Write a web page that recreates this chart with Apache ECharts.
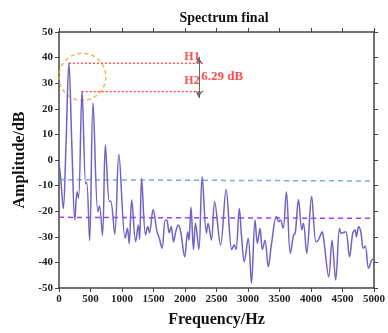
<!DOCTYPE html>
<html>
<head>
<meta charset="utf-8">
<script src="https://cdn.jsdelivr.net/npm/echarts@6/dist/echarts.min.js"></script>
<style>html,body{margin:0;padding:0;background:#fff}#c{width:388px;height:333px}</style>
</head>
<body>
<div id="c"></div>
<script>
var freqs = [0,30,68,110,157,205,251,287,310,366,423,440,486,540,616,642,690,736,799,820,885,950,1050,1086,1113,1154,1217,1259,1280,1311,1374,1410,1436,1494,1556,1593,1635,1687,1712,1750,1781,1818,1860,1896,1932,1995,2042,2063,2095,2135,2167,2220,2272,2340,2366,2418,2470,2564,2653,2742,2783,2810,2862,2898,2940,3003,3055,3112,3149,3191,3228,3270,3322,3374,3452,3489,3515,3557,3609,3672,3724,3750,3802,3854,3880,3932,4010,4079,4115,4151,4178,4200,4282,4334,4392,4454,4480,4549,4611,4663,4700,4720,4757,4793,4830,4862,4914,4977,5000];
var amps = [-1,-8,-19,5,38,5,-23.4,-12.4,-15,27,-9.4,-8.8,-31.5,22.4,-20.2,-18,-29.5,5.9,-16.3,-16,-29,2.2,-30.6,-26.7,-32.6,-15.6,-31.9,-25.4,-31,-7.2,-29.3,-26,-28.4,-19.3,-28,-30.6,-34.5,-23.4,-23.5,-28.4,-26,-31.9,-27.3,-25.4,-28,-37.8,-28,-31.3,-18.5,-35,-24.7,-35,-6.5,-28.6,-24.7,-31.3,-16.3,-33.2,-11.5,-35,-33.2,-35,-18.9,-30,-39.7,-30.6,-48.2,-23.4,-32.6,-26.7,-35,-31.3,-41.7,-32.6,-22.1,-24.1,-23.4,-26.7,-12.4,-36.5,-29.3,-28.6,-15.4,-27.3,-24.7,-36.5,-14.3,-31.9,-31.3,-29.3,-28,-30.6,-45.6,-31.3,-46.9,-26.7,-28.6,-28,-37.8,-28.6,-27.3,-30,-26,-28.4,-34.5,-33.6,-42.3,-38.8,-39];
var blueLine = [[0,-7.7],[5000,-8.2]];
var purpleLine = [[0,-22.4],[5000,-22.8]];
var h1Line = [[157,37.8],[2290,37.8]];
var h2Line = [[360,26.7],[2290,26.7]];
var arrowEnds = [[2220,40.3],[2220,24.2]];
var circleCenter = [[371,32.5]];
var labelH1 = [1990,40.2];
var labelH2 = [1990,30.9];
var labelDiff = [2257,32.4];
var diffText = '6.29 dB';
var xTicks = {min:0, max:5000, interval:500};
var yTicks = {min:-50, max:50, interval:10};

var serif = 'Liberation Serif';
var axisCommon = {
  axisLine:{show:true, onZero:false, lineStyle:{color:'#444', width:1.5}},
  axisTick:{show:true, inside:false, length:4, lineStyle:{color:'#444', width:1}},
  splitLine:{show:false}
};
var chart = echarts.init(document.getElementById('c'));
var pts = freqs.map(function(f,i){return [f, amps[i]];});
function textPt(p, txt, size){
  return {type:'scatter', xAxisIndex:0, yAxisIndex:0, symbolSize:0, silent:true,
    data:[p], label:{show:true, formatter:txt, position:'right', distance:0,
      color:'#ff2020', fontFamily:serif, fontWeight:'bold', fontSize:size}};
}
chart.setOption({
  animation:false,
  title:{text:'Spectrum final', left:219, top:6, textAlign:'center',
    textStyle:{fontFamily:serif, fontWeight:'bold', fontSize:14, color:'#111'}},
  grid:{left:59, right:10, top:32, bottom:45},
  xAxis:[
    Object.assign({type:'value', position:'bottom', min:xTicks.min, max:xTicks.max, interval:xTicks.interval,
      name:'Frequency/Hz', nameLocation:'middle', nameGap:24,
      nameTextStyle:{fontFamily:serif, fontWeight:'bold', fontSize:16, color:'#111'},
      axisLabel:{fontFamily:serif, fontWeight:'bold', fontSize:11, color:'#222', margin:6,
        formatter:function(v){return String(v);}}}, axisCommon),
    Object.assign({type:'value', position:'top', min:xTicks.min, max:xTicks.max, interval:xTicks.interval,
      axisLabel:{show:false}}, axisCommon)
  ],
  yAxis:[
    Object.assign({type:'value', position:'left', min:yTicks.min, max:yTicks.max, interval:yTicks.interval,
      name:'Amplitude/dB', nameLocation:'middle', nameGap:28,
      nameTextStyle:{fontFamily:serif, fontWeight:'bold', fontSize:16, color:'#111'},
      axisLabel:{fontFamily:serif, fontWeight:'bold', fontSize:11, color:'#222', margin:6,
        formatter:function(v){return String(v);}}}, axisCommon),
    Object.assign({type:'value', position:'right', min:yTicks.min, max:yTicks.max, interval:yTicks.interval,
      axisLabel:{show:false}}, axisCommon)
  ],
  series:[
    {type:'line', data:blueLine, showSymbol:false, symbol:'none', silent:true,
      lineStyle:{color:'#7aaee0', width:1.5, type:[5,4]}},
    {type:'line', data:purpleLine, showSymbol:false, symbol:'none', silent:true,
      lineStyle:{color:'#a03ef0', width:1.5, type:[5,4]}},
    {type:'line', data:pts, showSymbol:false, symbol:'none', smooth:0.35,
      lineStyle:{color:'#6f63c6', width:1.5}},
    {type:'line', data:h1Line, showSymbol:false, symbol:'none',
      lineStyle:{color:'#ff3030', width:1.2, type:[2,2]}},
    {type:'line', data:h2Line, showSymbol:false, symbol:'none',
      lineStyle:{color:'#ff3030', width:1.2, type:[2,2]},
      markLine:{silent:true, symbol:['arrow','arrow'], symbolSize:[5,7], label:{show:false},
        lineStyle:{color:'#666', width:1, type:'solid'},
        data:[[{coord:arrowEnds[0]},{coord:arrowEnds[1]}]]}},
    {type:'scatter', data:circleCenter, symbol:'circle', symbolSize:47, silent:true,
      itemStyle:{color:'rgba(0,0,0,0)', borderColor:'#f5a030', borderWidth:1.5, borderType:[4,3]}},
    textPt(labelH1, 'H1', 12),
    textPt(labelH2, 'H2', 12),
    textPt(labelDiff, diffText, 13)
  ]
});
</script>
</body>
</html>
